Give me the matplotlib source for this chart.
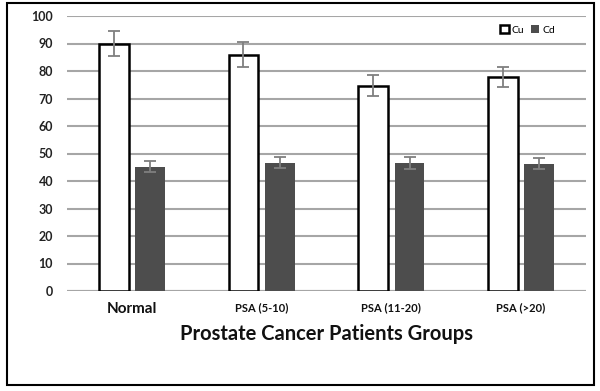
import matplotlib
matplotlib.use("Agg")
import matplotlib.pyplot as plt
import numpy as np
from matplotlib.patches import Rectangle

categories = ["Normal", "PSA (5-10)", "PSA (11-20)", "PSA (>20)"]
cu_values = [90, 86, 74.7, 77.8]
cu_err = [4.6, 4.5, 3.7, 3.6]
cd_values = [45.2, 46.7, 46.4, 46.3]
cd_err = [2.0, 2.0, 2.2, 2.0]
yticks = [0, 10, 20, 30, 40, 50, 60, 70, 80, 90, 100]

plt.rcParams['font.family'] = ['Lato', 'DejaVu Sans']

W, H = 600, 391
fig = plt.figure(figsize=(W/100, H/100), dpi=100)
ax = fig.add_axes([67/W, (H-291)/H, 519/W, 275/H])

x = np.arange(len(categories))
bw = 0.23
off = 0.14
ax.bar(x - off, cu_values, bw, color='white', edgecolor='black', linewidth=1.8,
       yerr=cu_err, ecolor='#7f7f7f', capsize=4, error_kw=dict(elinewidth=1.3, capthick=1.3),
       label='Cu', zorder=3)
ax.bar(x + off, cd_values, bw, color='#4d4d4d', edgecolor='none',
       yerr=cd_err, ecolor='#7f7f7f', capsize=4, error_kw=dict(elinewidth=1.3, capthick=1.3),
       label='Cd', zorder=3)

ax.set_xlim(-0.5, len(categories) - 0.5)
ax.set_ylim(0, 100)
ax.set_yticks(yticks)
ax.set_yticklabels([str(t) for t in yticks], fontsize=9, fontweight='bold', color='#222222')
ax.yaxis.grid(True, color='#a6a6a6', linewidth=1.5, zorder=0)
ax.set_axisbelow(True)
ax.tick_params(axis='both', length=0, pad=10)
for s in ax.spines.values():
    s.set_visible(False)
ax.axhline(0, color='#a6a6a6', linewidth=1.5, zorder=1)

ax.set_xticks(x)
ax.set_xticklabels(categories)
for i, lbl in enumerate(ax.get_xticklabels()):
    lbl.set_fontweight('bold')
    lbl.set_fontsize(11 if i == 0 else 8)
    lbl.set_color('#111111')
ax.tick_params(axis='x', pad=8)

ax.set_xlabel("Prostate Cancer Patients Groups", fontsize=14.5, fontweight='bold',
              labelpad=6, color='#111111')

leg = ax.legend(loc='center right', bbox_to_anchor=(0.94, 0.95), ncol=2, frameon=False,
                fontsize=7.5, handlelength=0.8, handleheight=0.8, handletextpad=0.3,
                columnspacing=0.6, borderaxespad=0, borderpad=0)

fig.patches.append(Rectangle((7/W, (H-385)/H), 587/W, 382/H, transform=fig.transFigure,
                             fill=False, edgecolor='black', linewidth=1.5))

fig.savefig("out.png", dpi=100)
